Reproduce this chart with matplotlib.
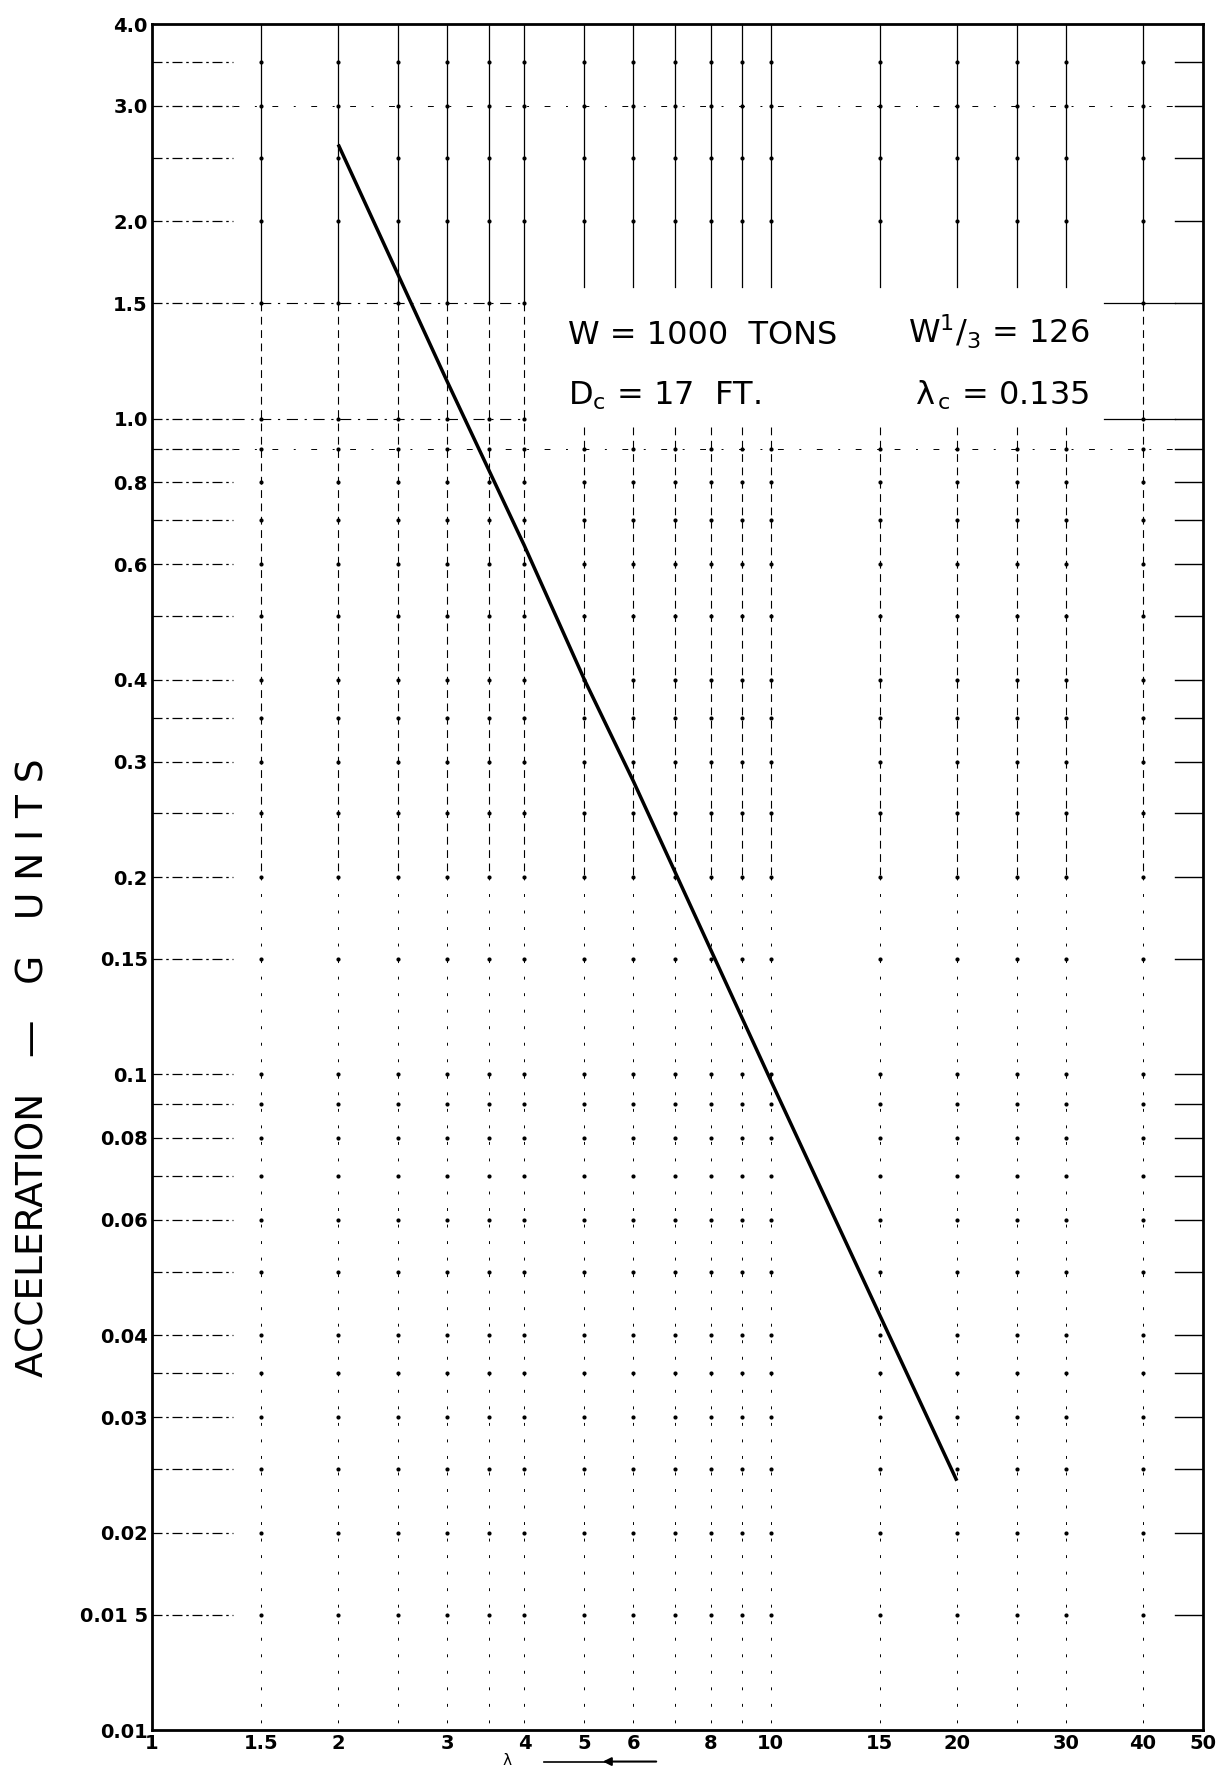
import numpy as np
import matplotlib
matplotlib.use('Agg')
import matplotlib.pyplot as plt

plt.rcParams['font.family'] = ['DejaVu Sans']
plt.rcParams['mathtext.default'] = 'regular'

# ---- data ----
lam = [2, 3, 4, 5, 6, 8, 10, 15, 20]
accel = [2.62, 1.14, 0.64, 0.40, 0.28, 0.155, 0.098, 0.043, 0.024]

x_ticks = [1, 1.5, 2, 3, 4, 5, 6, 8, 10, 15, 20, 30, 40, 50]
x_tick_labels = ['1', '1.5', '2', '3', '4', '5', '6', '8', '10', '15', '20', '30', '40', '50']
y_ticks = [4.0, 3.0, 2.0, 1.5, 1.0, 0.8, 0.6, 0.4, 0.3, 0.2, 0.15, 0.1, 0.08,
           0.06, 0.04, 0.03, 0.02, 0.015, 0.01]
y_tick_labels = ['4.0', '3.0', '2.0', '1.5', '1.0', '0.8', '0.6', '0.4', '0.3', '0.2',
                 '0.15', '0.1', '0.08', '0.06', '0.04', '0.03', '0.02', '0.01 5', '0.01']

x_grid = [1.5, 2, 2.5, 3, 3.5, 4, 5, 6, 7, 8, 9, 10, 15, 20, 25, 30, 40]
y_grid = [3.5, 3.0, 2.5, 2.0, 1.5, 1.0, 0.9, 0.8, 0.7, 0.6, 0.5, 0.4, 0.35, 0.3,
          0.25, 0.2, 0.15, 0.1, 0.09, 0.08, 0.07, 0.06, 0.05, 0.04, 0.035, 0.03,
          0.025, 0.02, 0.015]
# horizontal lines that are drawn sparsely across the whole chart
y_long = [3.0, 1.5, 1.0, 0.9]

# ---- figure ----
W, H = 1232, 1767
fig = plt.figure(figsize=(W / 100, H / 100), dpi=100)
ax = fig.add_axes([152 / W, 1 - 1730 / H, (1203 - 152) / W, (1730 - 24) / H])
ax.set_xscale('log')
ax.set_yscale('log')
xmin, xmax, ymin, ymax = 1, 50, 0.01, 4.0
ax.set_xlim(xmin, xmax)
ax.set_ylim(ymin, ymax)

box_x = (4.0, 36.0)
box_y = (0.97, 1.59)

gc = 'black'
# vertical grid lines
for xv in x_grid:
    in_box = box_x[0] < xv < box_x[1]
    top_end = box_y[1] if in_box else 1.5
    ax.plot([xv, xv], [ymax, top_end], color=gc, lw=0.9, zorder=1)
    mid_start = box_y[0] if in_box else 1.5
    ax.plot([xv, xv], [mid_start, 0.2], color=gc, lw=0.8,
            ls=(0, (7, 5)), zorder=1)
    ax.plot([xv, xv], [0.2, ymin], color=gc, lw=0.7,
            ls=(0, (3, 14)), zorder=1)

# horizontal grid lines (edges + sparse in selected rows)
for yv in y_grid:
    ax.plot([xmin, 1.35], [yv, yv], color=gc, lw=0.9,
            ls=(0, (8, 3, 2, 3)), zorder=1)
    ax.plot([45, xmax], [yv, yv], color=gc, lw=1.0, zorder=1)
    if yv in y_long:
        if box_y[0] <= yv <= box_y[1]:
            ax.plot([1.35, box_x[0]], [yv, yv], color=gc, lw=0.8,
                    ls=(0, (10, 6, 2, 6)), zorder=1)
            ax.plot([box_x[1] * 0.96, 45], [yv, yv], color=gc, lw=0.9, zorder=1)
        else:
            ax.plot([1.35, 45], [yv, yv], color=gc, lw=0.7,
                    ls=(0, (6, 16, 2, 16)), zorder=1)

# dots at grid intersections
gx, gy = np.meshgrid(np.array(x_grid), np.array(y_grid))
gx = gx.ravel()
gy = gy.ravel()
keep = ~((gx > box_x[0]) & (gx < box_x[1]) & (gy >= box_y[0]) & (gy <= box_y[1]))
ax.scatter(gx[keep], gy[keep], s=9, color=gc, zorder=2, linewidths=0)

# main curve
ax.plot(lam, accel, color='black', lw=2.5, solid_capstyle='butt', zorder=4)

# ticks
ax.set_xticks(x_ticks)
ax.set_xticklabels(x_tick_labels)
ax.set_yticks(y_ticks)
ax.set_yticklabels(y_tick_labels)
ax.xaxis.set_minor_locator(matplotlib.ticker.NullLocator())
ax.yaxis.set_minor_locator(matplotlib.ticker.NullLocator())
ax.tick_params(axis='both', length=0, labelsize=14)
ax.tick_params(axis='x', pad=3)
ax.tick_params(axis='y', pad=3)
for lab in ax.get_xticklabels() + ax.get_yticklabels():
    lab.set_fontweight('bold')

for sp in ax.spines.values():
    sp.set_linewidth(2.0)
    sp.set_color('black')

# annotation text
fs = 23
ax.text(4.7, 1.30, 'W = 1000  TONS', fontsize=fs, ha='left', va='baseline', zorder=5)
ax.text(16.7, 1.30, r'W$^{1}$/$_{3}$ = 126', fontsize=fs, ha='left', va='baseline', zorder=5)
ax.text(4.7, 1.05, r'D$_c$ = 17  FT.', fontsize=fs, ha='left', va='baseline', zorder=5)
ax.text(17.1, 1.05, r'$\lambda$$_{\,c}$ = 0.135', fontsize=fs, ha='left', va='baseline', zorder=5)

# y axis label
fig.text(34 / W, 1 - 1068 / H, 'ACCELERATION   —   G   U N I T S', rotation=90,
         fontsize=27, ha='center', va='center')

# partially visible x label at the very bottom
xt = ax.get_xaxis_transform()
ax.text(3.75, -0.0175, r'$\lambda$', transform=xt, fontsize=11, ha='center',
        va='center', clip_on=False)
ax.annotate('', xy=(5.3, -0.0185), xytext=(6.6, -0.0185), xycoords=xt,
            textcoords=xt, annotation_clip=False,
            arrowprops=dict(arrowstyle='-|>', color='black', lw=1.5,
                            mutation_scale=12))
ax.plot([4.3, 5.4], [-0.0185, -0.0185], transform=xt, color='black', lw=1.2,
        clip_on=False)

fig.savefig('out.png', dpi=100)
